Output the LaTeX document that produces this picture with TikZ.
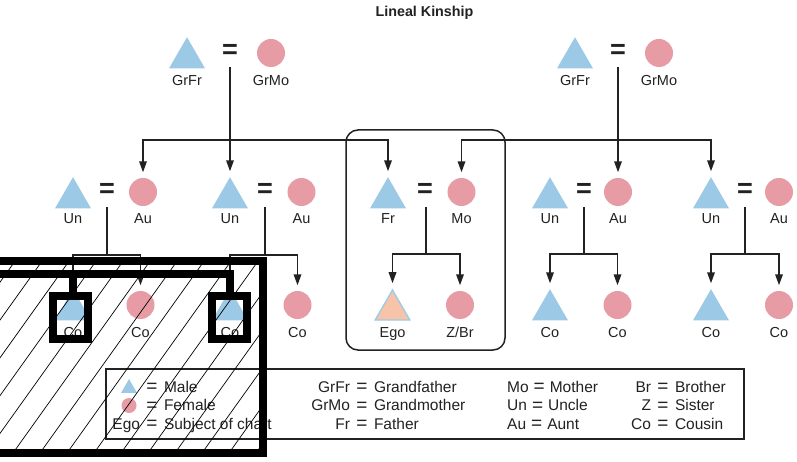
\documentclass[tikz,border=0pt]{standalone}
\usepackage{fontspec}
\setmainfont{Liberation Sans}
\usetikzlibrary{shapes.geometric,arrows.meta}
\definecolor{maleblue}{HTML}{9CCAE6}
\definecolor{femalepink}{HTML}{E69BA5}
\definecolor{egopeach}{HTML}{F7C4AA}
\definecolor{linegray}{HTML}{222222}
\newcommand{\bigeq}{\raisebox{-0.5pt}{\fontsize{19}{19}\selectfont =}}
\newcommand{\legentry}[2]{\makebox[0pt][r]{#1\hspace{12pt}}\makebox[0pt][c]{\bigeq}\makebox[0pt][l]{\hspace{12pt}#2}}
\newcommand{\legleft}[2]{#1\hspace{5pt}\bigeq\hspace{5pt}#2}
\tikzset{
  male/.style={regular polygon, regular polygon sides=3, minimum size=41.6pt, inner sep=0pt, fill=maleblue},
  female/.style={circle, minimum size=28pt, inner sep=0pt, fill=femalepink},
  egotri/.style={regular polygon, regular polygon sides=3, minimum size=40pt, inner sep=0pt, fill=egopeach, draw=maleblue, line width=1.3pt},
  marr/.style={font=\fontsize{27}{27}\selectfont\bfseries, inner sep=0pt, text=linegray},
  lbl/.style={anchor=base, font=\fontsize{14.5}{14.5}\selectfont, inner sep=0pt, text=linegray},
  conn/.style={line width=1.7pt, draw=linegray},
  arr/.style={conn, -{Triangle[width=7.5pt,length=11pt]}, shorten >=5.5pt},
  legtxt/.style={anchor=base, font=\fontsize{15.5}{15.5}\selectfont, inner sep=0pt, text=linegray},
  heavy/.style={line width=7.5pt, draw=black, line join=miter},
  hatchline/.style={line width=0.7pt, draw=black}
}
\begin{document}
\begin{tikzpicture}[x=1pt,y=-1pt]
\useasboundingbox (0,0) rectangle (797,462);
\fill[white] (0,0) rectangle (797,462);

% title
\node[anchor=base, font=\fontsize{14.3}{16}\selectfont\bfseries, inner sep=0pt, text=linegray] (title) at (424.5,17) {Lineal Kinship};

% ego family frame
\node[draw=linegray, line width=1.5pt, rounded corners=12pt, minimum width=159pt, minimum height=220pt, inner sep=0pt] (egobox) at (425.5,240) {};

% row 1: grandparents
\node[male] (gfL) at (187,58) {};
\node[marr] (eqL) at (230,51.5) {=};
\node[female] (gmL) at (271,53) {};
\node[lbl] (gfLl) at (187,86) {GrFr};
\node[lbl] (gmLl) at (271,86) {GrMo};
\node[male] (gfR) at (575,58) {};
\node[marr] (eqR) at (618,51.5) {=};
\node[female] (gmR) at (659,53) {};
\node[lbl] (gfRl) at (575,86) {GrFr};
\node[lbl] (gmRl) at (659,86) {GrMo};

% row 2: parents' generation
\node[male] (un1) at (73,198) {};
\node[marr] (eq1) at (107,190.5) {=};
\node[female] (au1) at (143,192) {};
\node[lbl] (un1l) at (73,224) {Un};
\node[lbl] (au1l) at (143,224) {Au};

\node[male] (un2) at (230,198) {};
\node[marr] (eq2) at (265,190.5) {=};
\node[female] (au2) at (301.5,192) {};
\node[lbl] (un2l) at (230,224) {Un};
\node[lbl] (au2l) at (301.5,224) {Au};

\node[male] (fr) at (388,198) {};
\node[marr] (eq3) at (425,190.5) {=};
\node[female] (mo) at (461.5,192) {};
\node[lbl] (frl) at (388,224) {Fr};
\node[lbl] (mol) at (461.5,224) {Mo};

\node[male] (un4) at (550,198) {};
\node[marr] (eq4) at (584,190.5) {=};
\node[female] (au4) at (618,192) {};
\node[lbl] (un4l) at (550,224) {Un};
\node[lbl] (au4l) at (618,224) {Au};

\node[male] (un5) at (711,198) {};
\node[marr] (eq5) at (745,190.5) {=};
\node[female] (au5) at (779,192) {};
\node[lbl] (un5l) at (711,224) {Un};
\node[lbl] (au5l) at (779,224) {Au};

% row 3: ego generation
\node[male] (co1m) at (73,310) {};
\node[female] (co1f) at (140.5,305) {};
\node[lbl] (co1ml) at (73,337) {Co};
\node[lbl] (co1fl) at (140.5,337) {Co};

\node[male] (co2m) at (230,310) {};
\node[female] (co2f) at (297.5,305) {};
\node[lbl] (co2ml) at (230,337) {Co};
\node[lbl] (co2fl) at (297.5,337) {Co};

\node[egotri] (ego) at (392.5,310) {};
\node[female] (sib) at (460,305) {};
\node[lbl] (egol) at (392.5,337) {Ego};
\node[lbl] (sibl) at (460,337) {Z/Br};

\node[male] (co4m) at (550,310) {};
\node[female] (co4f) at (617.5,305) {};
\node[lbl] (co4ml) at (550,337) {Co};
\node[lbl] (co4fl) at (617.5,337) {Co};

\node[male] (co5m) at (711,310) {};
\node[female] (co5f) at (779,305) {};
\node[lbl] (co5ml) at (711,337) {Co};
\node[lbl] (co5fl) at (779,337) {Co};

% connectors from grandparents
\coordinate (dL) at (230,67);
\coordinate (jL) at (230,140);
\draw[arr] (dL) -- (un2.north);
\draw[arr] (jL) -| (au1.north);
\draw[arr] (jL) -| (fr.north);
\coordinate (dR) at (618,67);
\coordinate (jR) at (618,140);
\draw[arr] (dR) -- (au4.north);
\draw[arr] (jR) -| (mo.north);
\draw[arr] (jR) -| (un5.north);

% connectors to children
\coordinate (d1) at (107,207); \coordinate (j1) at (107,255);
\coordinate (d2) at (265,207); \coordinate (j2) at (265,255);
\coordinate (d3) at (426,207); \coordinate (j3) at (426,254);
\coordinate (d4) at (584,207); \coordinate (j4) at (584,254);
\coordinate (d5) at (745,207); \coordinate (j5) at (745,254);
\draw[conn] (d1) -- (j1);
\draw[arr] (j1) -| (co1m.north);
\draw[arr] (j1) -| (co1f.north);
\draw[conn] (d2) -- (j2);
\draw[arr] (j2) -| (co2m.north);
\draw[arr] (j2) -| (co2f.north);
\draw[conn] (d3) -- (j3);
\draw[arr] (j3) -| (ego.north);
\draw[arr] (j3) -| (sib.north);
\draw[conn] (d4) -- (j4);
\draw[arr] (j4) -| (co4m.north);
\draw[arr] (j4) -| (co4f.north);
\draw[conn] (d5) -- (j5);
\draw[arr] (j5) -| (co5m.north);
\draw[arr] (j5) -| (co5f.north);

% legend
\node[draw=linegray, line width=1.8pt, minimum width=638pt, minimum height=70pt, inner sep=0pt] (legend) at (425,404) {};
\node[regular polygon, regular polygon sides=3, minimum size=18.5pt, inner sep=0pt, fill=maleblue] (lgmale) at (129,388.3) {};
\node[circle, minimum size=15pt, inner sep=0pt, fill=femalepink] (lgfemale) at (129,405.5) {};
\node[legtxt] (lg1) at (152,392) {\legentry{}{Male}};
\node[legtxt] (lg2) at (152,410.5) {\legentry{}{Female}};
\node[legtxt] (lg3) at (152,429) {\legentry{Ego}{Subject of chart}};
\node[legtxt] (lg4) at (362,392) {\legentry{GrFr}{Grandfather}};
\node[legtxt] (lg5) at (362,410.5) {\legentry{GrMo}{Grandmother}};
\node[legtxt] (lg6) at (362,429) {\legentry{Fr}{Father}};
\node[legtxt, anchor=base west] (lg7) at (507,392) {\legleft{Mo}{Mother}};
\node[legtxt, anchor=base west] (lg8) at (507,410.5) {\legleft{Un}{Uncle}};
\node[legtxt, anchor=base west] (lg9) at (507,429) {\legleft{Au}{Aunt}};
\node[legtxt] (lg10) at (663,392) {\legentry{Br}{Brother}};
\node[legtxt] (lg11) at (663,410.5) {\legentry{Z}{Sister}};
\node[legtxt] (lg12) at (663,429) {\legentry{Co}{Cousin}};

% hatched overlay
\begin{scope}
  \clip (0,261) rectangle (263,453);
  \foreach \k in {-149,-122,...,280} {
    \draw[hatchline] (\k,453) -- ++(140,-196);
  }
\end{scope}
\draw[heavy] (-10,261) -- (263,261) -- (263,453) -- (-10,453);
\draw[heavy] (-10,274) -- (230,274) -- (230,296);
\draw[heavy] (73,274) -- (73,296);
\draw[heavy] (53,296) rectangle (88,339);
\draw[heavy] (212,296) rectangle (247,339);
\end{tikzpicture}
\end{document}
